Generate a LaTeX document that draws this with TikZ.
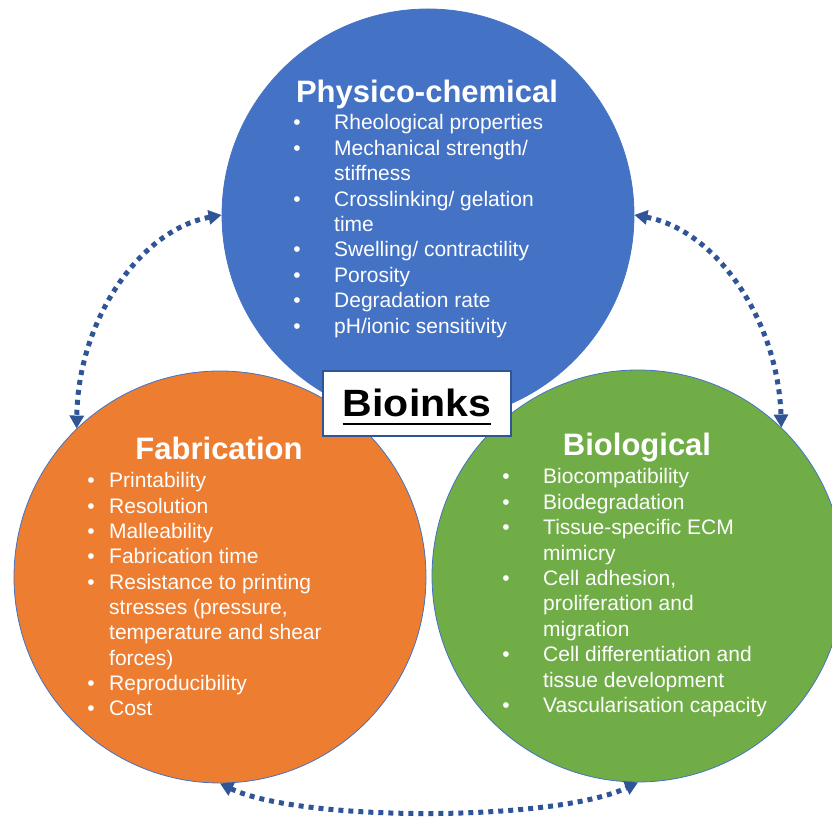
\documentclass[tikz,border=0pt]{standalone}
\usepackage{fontspec}
\setmainfont{Liberation Sans}
\usetikzlibrary{arrows.meta}
\definecolor{phyblue}{HTML}{4472C4}
\definecolor{fabor}{HTML}{ED7D31}
\definecolor{biogreen}{HTML}{70AD47}
\definecolor{linkblue}{HTML}{2F5597}
\begin{document}
\begin{tikzpicture}[x=1pt,y=1pt,
  circ/.style={circle,draw=phyblue,line width=0.8pt,minimum size=412pt,inner sep=0pt},
  ttl/.style={anchor=base,text=white,inner sep=0pt,font=\fontsize{31}{36}\selectfont\bfseries},
  txt/.style={anchor=base west,text=white,inner sep=0pt,font=\fontsize{21}{25.4}\selectfont},
  bul/.style={anchor=base,text=white,inner sep=0pt,font=\fontsize{21}{25.4}\selectfont},
  link/.style={draw=linkblue,line width=5pt,dash pattern=on 5pt off 5pt,
    {Triangle[length=13pt,width=14pt]}-{Triangle[length=13pt,width=14pt]}},
  tagbox/.style={draw=linkblue,line width=2.5pt,fill=white,minimum width=188pt,minimum height=65pt,inner sep=0pt}]
\clip (0,0) rectangle (832,816);

% the three property circles
\node[circ,fill=phyblue] (phys) at (428,601) {};
\node[circ,fill=fabor] (fab) at (220,239) {};
\node[circ,fill=biogreen] (bio) at (638,240) {};

% dotted two-way links between the circles
\draw[link] (phys.west) .. controls (140,586) and (78,496) .. (fab.134);
\draw[link] (phys.east) .. controls (716,586) and (778,496) .. (bio.46);
\draw[link] (fab.-90) .. controls (300,-6) and (555,-6) .. (bio.-90);

% central label
\node[tagbox] (tag) at (417,412.5) {};
\node[anchor=base,inner sep=0pt,font=\fontsize{38}{44}\selectfont\bfseries] (taglbl) at (417,399) {\scalebox{1.08}[1]{Bioinks}};
\draw[line width=2.7pt] ([yshift=-7pt]taglbl.base west) -- ([yshift=-7pt]taglbl.base east);

% physico-chemical list
\node[ttl] (physttl) at (427,713.5) {Physico-chemical};
\begin{scope}[shift={(334,686)}]
\node[txt] (p1) at (0,0) {Rheological properties};
\node[txt] (p2) at (0,-25.4) {Mechanical strength/};
\node[txt] (p3) at (0,-50.8) {stiffness};
\node[txt] (p4) at (0,-76.2) {Crosslinking/ gelation};
\node[txt] (p5) at (0,-101.6) {time};
\node[txt] (p6) at (0,-127) {Swelling/ contractility};
\node[txt] (p7) at (0,-152.4) {Porosity};
\node[txt] (p8) at (0,-177.8) {Degradation rate};
\node[txt] (p9) at (0,-203.2) {pH/ionic sensitivity};
\foreach \k/\yy in {1/0,2/-25.4,4/-76.2,6/-127,7/-152.4,8/-177.8,9/-203.2}
  \node[bul] (pb\k) at (-37,\yy) {•};
\end{scope}

% fabrication list
\node[ttl] (fabttl) at (219,356) {Fabrication};
\begin{scope}[shift={(109,328)}]
\node[txt] (f1) at (0,0) {Printability};
\node[txt] (f2) at (0,-25.3) {Resolution};
\node[txt] (f3) at (0,-50.6) {Malleability};
\node[txt] (f4) at (0,-75.9) {Fabrication time};
\node[txt] (f5) at (0,-101.2) {Resistance to printing};
\node[txt] (f6) at (0,-126.5) {stresses (pressure,};
\node[txt] (f7) at (0,-151.8) {temperature and shear};
\node[txt] (f8) at (0,-177.1) {forces)};
\node[txt] (f9) at (0,-202.4) {Reproducibility};
\node[txt] (f10) at (0,-227.7) {Cost};
\foreach \k/\yy in {1/0,2/-25.3,3/-50.6,4/-75.9,5/-101.2,9/-202.4,10/-227.7}
  \node[bul] (fb\k) at (-18,\yy) {•};
\end{scope}

% biological list
\node[ttl] (biottl) at (637,360) {Biological};
\begin{scope}[shift={(543,332)}]
\node[txt] (b1) at (0,0) {Biocompatibility};
\node[txt] (b2) at (0,-25.4) {Biodegradation};
\node[txt] (b3) at (0,-50.8) {Tissue-specific ECM};
\node[txt] (b4) at (0,-76.2) {mimicry};
\node[txt] (b5) at (0,-101.6) {Cell adhesion,};
\node[txt] (b6) at (0,-127) {proliferation and};
\node[txt] (b7) at (0,-152.4) {migration};
\node[txt] (b8) at (0,-177.8) {Cell differentiation and};
\node[txt] (b9) at (0,-203.2) {tissue development};
\node[txt] (b10) at (0,-228.6) {Vascularisation capacity};
\foreach \k/\yy in {1/0,2/-25.4,3/-50.8,5/-101.6,8/-177.8,10/-228.6}
  \node[bul] (bb\k) at (-37,\yy) {•};
\end{scope}
\end{tikzpicture}
\end{document}
